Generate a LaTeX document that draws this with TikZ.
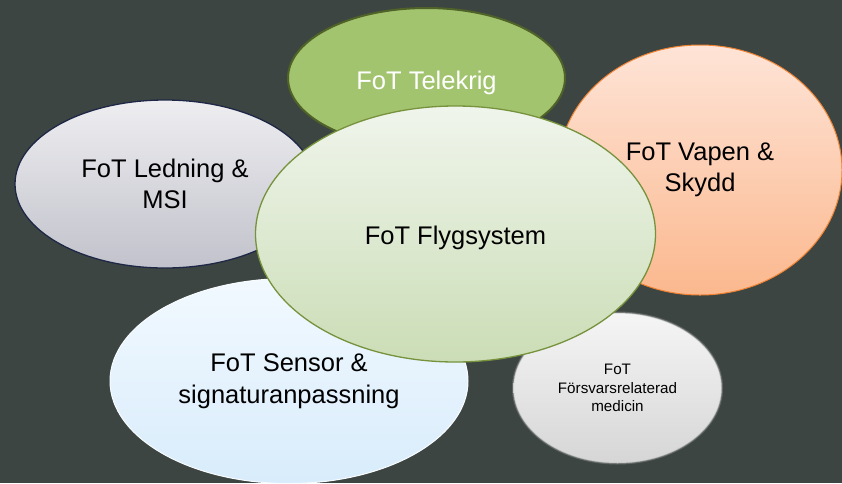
\documentclass[tikz,border=0pt]{standalone}
\usepackage{fontspec}
\setmainfont{Liberation Sans}
\usetikzlibrary{shapes.geometric}

\definecolor{bg}{RGB}{61,69,66}
\definecolor{telefill}{RGB}{163,196,111}
\definecolor{teledraw}{RGB}{79,98,40}
\definecolor{flytop}{RGB}{240,245,236}
\definecolor{flybot}{RGB}{203,221,182}
\definecolor{flydraw}{RGB}{118,146,60}
\definecolor{vaptop}{RGB}{254,228,215}
\definecolor{vapbot}{RGB}{251,184,142}
\definecolor{vapdraw}{RGB}{240,130,50}
\definecolor{ledtop}{RGB}{238,238,241}
\definecolor{ledbot}{RGB}{193,194,203}
\definecolor{leddraw}{RGB}{30,40,70}
\definecolor{sentop}{RGB}{242,249,255}
\definecolor{senbot}{RGB}{216,236,251}
\definecolor{medtop}{RGB}{245,245,245}
\definecolor{medbot}{RGB}{214,214,214}

\newcommand\bubblefont{\fontsize{25.5pt}{31.5pt}\selectfont}
\newcommand\smallbubblefont{\fontsize{15.2pt}{18.5pt}\selectfont}
% lower a single-line label without changing its box
\newcommand\lowered[2]{\raisebox{-#1}[\height][\depth]{#2}}

\begin{document}
\begin{tikzpicture}[x=1pt,y=-1pt,
  bubble/.style={ellipse, inner sep=0pt, align=center, font=\bubblefont},
  smallbubble/.style={bubble, font=\smallbubblefont}]
  \fill[bg] (0,0) rectangle (842,483);
  \useasboundingbox (0,0) rectangle (842,483);

  % back row of research areas
  \node[bubble, minimum width=277pt, minimum height=140pt,
        fill=telefill, draw=teledraw, line width=2pt, text=white]
        (telekrig) at (426.5,78) {\lowered{5pt}{FoT Telekrig}};
  \node[bubble, minimum width=284pt, minimum height=250pt,
        top color=vaptop, bottom color=vapbot, draw=vapdraw, line width=1pt]
        (vapen) at (700,170) {FoT Vapen \&\\Skydd};
  \node[bubble, minimum width=300pt, minimum height=168pt,
        top color=ledtop, bottom color=ledbot, draw=leddraw, line width=1.3pt]
        (ledning) at (165,184) {FoT Ledning \&\\MSI};
  \node[bubble, minimum width=358pt, minimum height=205pt,
        top color=sentop, bottom color=senbot, draw=white!85!senbot, line width=1pt]
        (sensor) at (289,381) {FoT Sensor \&\\signaturanpassning};

  % small bubble with a soft edge
  \node[smallbubble, minimum width=208pt, minimum height=150pt,
        draw=medbot!70!bg, draw opacity=0.35, line width=3pt]
        (medicinedge) at (617.5,388) {};
  \node[smallbubble, minimum width=208pt, minimum height=150pt,
        top color=medtop, bottom color=medbot, draw=medbot!85!bg, draw opacity=0.6, line width=1pt]
        (medicin) at (617.5,388) {FoT\\Försvarsrelaterad\\medicin};

  % central area on top
  \node[bubble, minimum width=400pt, minimum height=256pt,
        top color=flytop, bottom color=flybot, draw=flydraw, line width=1.3pt]
        (flyg) at (455.5,234) {\lowered{3.5pt}{FoT Flygsystem}};
\end{tikzpicture}
\end{document}
